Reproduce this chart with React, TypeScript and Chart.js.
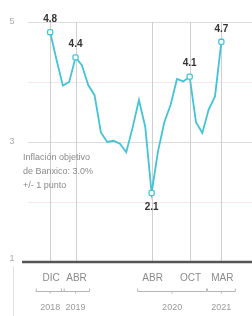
import React, { useEffect, useRef } from "react";
import { Chart, registerables } from "chart.js";
Chart.register(...registerables);

// Monthly inflation, Dec 2018 .. Mar 2021
const inflation = [
  4.83, 4.37, 3.94, 4.0, 4.41, 4.28, 3.95, 3.78, 3.16, 3.0, 3.02, 2.97, 2.83,
  3.24, 3.7, 3.25, 2.15, 2.84, 3.33, 3.62, 4.05, 4.01, 4.09, 3.33, 3.15, 3.54,
  3.76, 4.67,
];
const labeledIdx = [0, 4, 16, 22, 27];
const labeledText = ["4.8", "4.4", "2.1", "4.1", "4.7"];
const labeledBelow = [false, false, true, false, false];
const tickIdx = [0, 4, 16, 22, 27];
const tickLabels = ["DIC", "ABR", "ABR", "OCT", "MAR"];
const yearLabels = ["2018", "2019", "2020", "2021"];
const yearFrom = [0, 4, 16, 27];
const yearTo = [0, 4, 22, 27];
const yTicks = [5, 3, 1];
const bandLines = [4, 2];
const noteLines = ["Inflación objetivo", "de Banxico: 3.0%", "+/- 1 punto"];

const LINE = "#42c4d6";
const FONT = "'Liberation Sans', Arial, sans-serif";

export default function App() {
  const ref = useRef<HTMLCanvasElement>(null);
  useEffect(() => {
    const canvas = ref.current!;
    const deco = {
      id: "deco",
      beforeDatasetsDraw(chart: any) {
        const { ctx, scales } = chart;
        const xs = scales.x, ys = scales.y;
        const W = chart.width;
        ctx.save();
        ctx.lineWidth = 1;
        for (const v of yTicks) {
          if (v === 1) continue;
          const y = Math.round(ys.getPixelForValue(v)) + 0.5;
          ctx.strokeStyle = "#dcdcdc";
          ctx.beginPath(); ctx.moveTo(28, y); ctx.lineTo(W, y); ctx.stroke();
        }
        for (const v of bandLines) {
          const y = Math.round(ys.getPixelForValue(v)) + 0.5;
          ctx.strokeStyle = "#f7e6ea";
          ctx.beginPath(); ctx.moveTo(28, y); ctx.lineTo(W, y); ctx.stroke();
        }
        for (const i of tickIdx) {
          const x = Math.round(xs.getPixelForValue(i)) + 0.5;
          ctx.strokeStyle = "#cfcfcf";
          ctx.beginPath();
          ctx.moveTo(x, ys.getPixelForValue(5));
          ctx.lineTo(x, ys.getPixelForValue(1));
          ctx.stroke();
        }
        const yb = ys.getPixelForValue(1);
        ctx.strokeStyle = "#555";
        ctx.lineWidth = 2.5;
        ctx.beginPath(); ctx.moveTo(22, yb); ctx.lineTo(W, yb); ctx.stroke();
        ctx.strokeStyle = "#e2e2e2";
        ctx.lineWidth = 1;
        ctx.beginPath(); ctx.moveTo(13.5, yb + 4); ctx.lineTo(13.5, chart.height); ctx.stroke();
        ctx.fillStyle = "#aaa";
        ctx.font = `9px ${FONT}`;
        ctx.textAlign = "center";
        ctx.textBaseline = "middle";
        for (const v of yTicks) {
          ctx.fillText(String(v), 12, ys.getPixelForValue(v) - (v === 1 ? 3 : 0));
        }
        ctx.fillStyle = "#8a8a8a";
        ctx.font = `9px ${FONT}`;
        ctx.textAlign = "left";
        ctx.textBaseline = "middle";
        noteLines.forEach((t, k) => ctx.fillText(t, 23, 158 + k * 14));
        ctx.restore();
      },
      afterDatasetsDraw(chart: any) {
        const { ctx, scales } = chart;
        const xs = scales.x, ys = scales.y;
        ctx.save();
        ctx.fillStyle = "#333";
        ctx.font = `bold 10px ${FONT}`;
        ctx.textAlign = "center";
        ctx.textBaseline = "middle";
        labeledIdx.forEach((i, k) => {
          const x = xs.getPixelForValue(i);
          const y = ys.getPixelForValue(inflation[i]);
          ctx.fillText(labeledText[k], x, labeledBelow[k] ? y + 14 : y - 13);
        });
        const yb = ys.getPixelForValue(1);
        ctx.fillStyle = "#8a8a8a";
        ctx.font = `10px ${FONT}`;
        tickIdx.forEach((i, k) => {
          ctx.fillText(tickLabels[k], xs.getPixelForValue(i) + 1, yb + 16);
        });
        ctx.strokeStyle = "#b5b5b5";
        ctx.lineWidth = 1;
        yearLabels.forEach((t, k) => {
          const x0 = xs.getPixelForValue(yearFrom[k]) - 14;
          const x1 = Math.min(xs.getPixelForValue(yearTo[k]) + (k === 2 ? 17 : 14), chart.width - 2);
          const y = yb + 29.5;
          ctx.beginPath();
          ctx.moveTo(x0, y - 3); ctx.lineTo(x0, y); ctx.lineTo(x1, y); ctx.lineTo(x1, y - 3);
          ctx.moveTo((x0 + x1) / 2, y); ctx.lineTo((x0 + x1) / 2, y + 2);
          ctx.stroke();
          ctx.fillStyle = "#9a9a9a";
          ctx.font = `9px ${FONT}`;
          ctx.fillText(t, (x0 + x1) / 2, yb + 46);
        });
        ctx.restore();
      },
    };
    const chart = new Chart(canvas, {
      type: "line",
      data: {
        datasets: [
          {
            data: inflation.map((v, i) => ({ x: i, y: v })),
            borderColor: LINE,
            borderWidth: 1.8,
            tension: 0,
            pointRadius: inflation.map((_, i) => (labeledIdx.includes(i) ? 3 : 0)),
            pointStyle: "rectRounded",
            pointBackgroundColor: "#fff",
            pointBorderColor: LINE,
            pointBorderWidth: 1.3,
          },
        ],
      },
      options: {
        animation: false,
        responsive: false,
        layout: { padding: { left: 28, right: 0, top: 22, bottom: 54 } },
        plugins: { legend: { display: false }, tooltip: { enabled: false } },
        scales: {
          x: { type: "linear", min: -3.5, max: 31, display: false },
          y: { min: 1, max: 5, display: false },
        },
      },
      plugins: [deco],
    });
    return () => chart.destroy();
  }, []);
  return (
    <div style={{ position: "fixed", left: 0, top: 0, width: 252, height: 316, background: "#fff" }}>
      <canvas ref={ref} width={252} height={316} />
    </div>
  );
}
